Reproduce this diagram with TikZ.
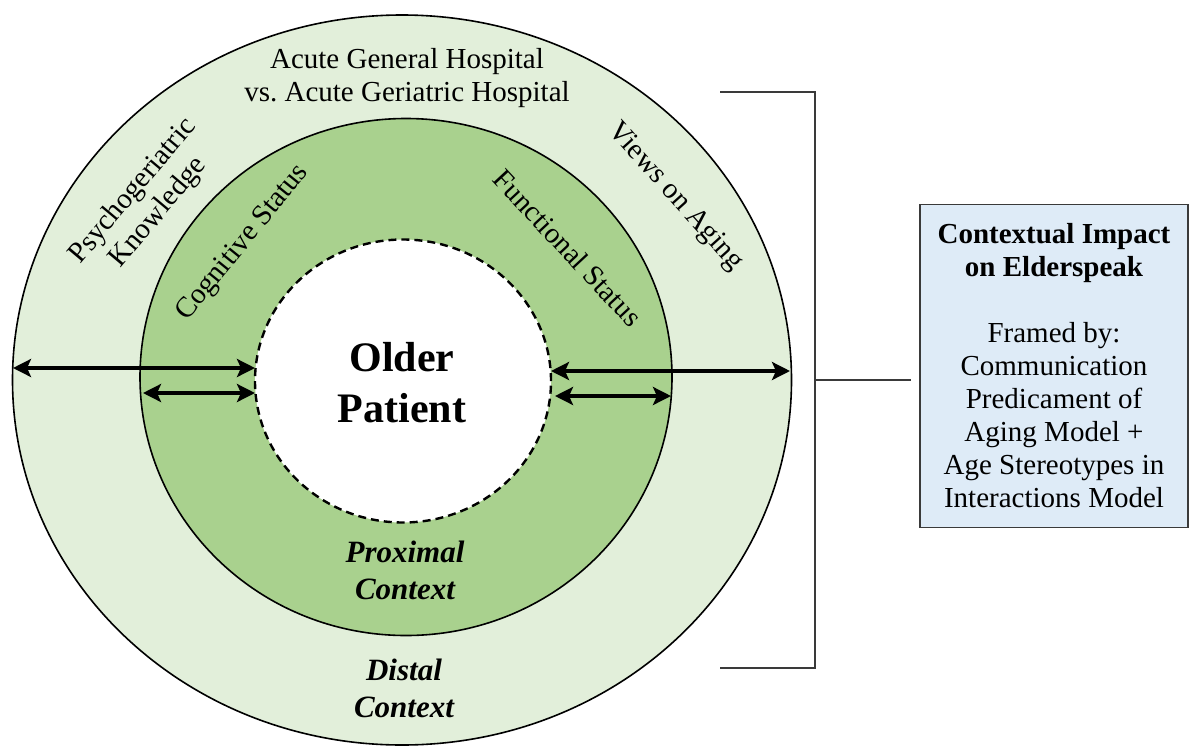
\documentclass[tikz,border=0pt]{standalone}
\usepackage{fontspec}
\setmainfont{Liberation Serif}
\usepackage{tikz}
\usetikzlibrary{shapes.geometric,arrows.meta}
\definecolor{distalgreen}{HTML}{E2EFDA}
\definecolor{proxgreen}{HTML}{A9D18E}
\definecolor{boxblue}{HTML}{DEEBF7}
\definecolor{framegray}{HTML}{3A3A3A}

\begin{document}
\begin{tikzpicture}[x=1pt,y=-1pt,
  ring/.style={ellipse, draw, line width=1.6pt, inner sep=0pt},
  reach/.style={line width=4pt, {Stealth[length=18pt,width=18pt,inset=4pt]}-{Stealth[length=18pt,width=18pt,inset=4pt]}},
  lbl/.style={font=\fontsize{29}{33}\selectfont, align=center, inner sep=0pt},
  ctx/.style={font=\bfseries\itshape\fontsize{31}{37}\selectfont, align=center, inner sep=0pt}]
\useasboundingbox (0,0) rectangle (1190,747);

% Circles
\node[ring, fill=distalgreen, minimum width=779pt, minimum height=730pt] (distal) at (402,380) {};
\node[ring, fill=proxgreen, minimum width=532pt, minimum height=517pt] (proximal) at (406,377) {};
\node[ring, fill=white, dash pattern=on 8pt off 5pt, line width=2.4pt, minimum width=296pt, minimum height=283pt] (patient) at (403,381) {};

% Arrows
\coordinate (a1) at (13,368);
\coordinate (a2) at (255,368);
\coordinate (b1) at (143,393);
\coordinate (b2) at (255,393);
\coordinate (c1) at (551,371);
\coordinate (c2) at (790,371);
\coordinate (d1) at (555,396);
\coordinate (d2) at (671,396);
\foreach \s/\e in {a1/a2,b1/b2,c1/c2,d1/d2}
{
    \draw[reach] (\s) -- (\e);
}

% Labels
\node[lbl] (acute) at (407,78) {Acute General Hospital\\vs.\ Acute Geriatric Hospital};
\node[lbl, rotate=50] (psycho) at (146,202) {Psychogeriatric\\Knowledge};
\node[lbl, rotate=51] (cognitive) at (243,243) {Cognitive Status};
\node[lbl, rotate=-47] (functional) at (568,248) {Functional Status};
\node[lbl, rotate=-48] (views) at (675,197) {Views on Aging};
\node[font=\bfseries\fontsize{42}{51}\selectfont, align=center, inner sep=0pt] (older) at (402,383) {Older\\Patient};
\node[ctx] (proxlbl) at (405,570) {Proximal\\Context};
\node[ctx] (distlbl) at (404,688) {Distal\\Context};

% Bracket and box
\coordinate (btop) at (720,92);
\coordinate (btopr) at (815,92);
\coordinate (bbotr) at (815,668);
\coordinate (bbot) at (720,668);
\coordinate (bmid) at (815,380);
\draw[framegray, line width=1.3pt] (btop) -- (btopr) -- (bbotr) -- (bbot);
\node[lbl, draw=framegray, fill=boxblue, line width=1.4pt, minimum width=268pt, minimum height=323pt] (impact) at (1054,366)
  {\textbf{Contextual Impact}\\\textbf{on Elderspeak}\\[33pt]Framed by:\\Communication\\Predicament of\\Aging Model +\\Age Stereotypes in\\Interactions Model};
\draw[framegray, line width=1.3pt] (bmid) -- ([xshift=-8pt]bmid -| impact.west);

\end{tikzpicture}
\end{document}
